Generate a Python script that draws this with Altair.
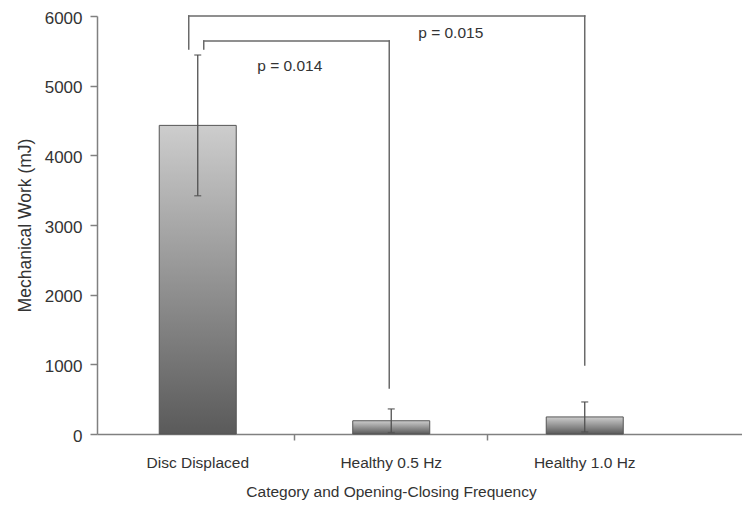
import altair as alt
import pandas as pd

# ---- data ----
categories = ["Disc Displaced", "Healthy 0.5 Hz", "Healthy 1.0 Hz"]
means = [4430, 190, 245]
errors = [1010, 170, 215]

bracket_from = ["Disc Displaced", "Disc Displaced"]
bracket_to = ["Healthy 0.5 Hz", "Healthy 1.0 Hz"]
bracket_top = [5640, 6000]
bracket_left_bottom = [5526, 5526]
bracket_right_bottom = [660, 990]
p_labels = ["p = 0.014", "p = 0.015"]
p_label_y = [5282, 5756]

y_ticks = [0, 1000, 2000, 3000, 4000, 5000, 6000]

# ---- tables ----
df = pd.DataFrame({"cat": categories, "mean": means, "err": errors})
df["lo"] = df["mean"] - df["err"]
df["hi"] = df["mean"] + df["err"]

br = pd.DataFrame({
    "from": bracket_from, "to": bracket_to, "top": bracket_top,
    "lb": bracket_left_bottom, "rb": bracket_right_bottom,
    "label": p_labels, "ly": p_label_y,
})

FONT = "Liberation Sans"
TXT = "#333333"
AX = "#808080"
LINE = "#6a6a6a"

xscale = alt.Scale(domain=categories, paddingInner=0, paddingOuter=0.1667, align=0.062)
yscale = alt.Scale(domain=[0, 6000], nice=False)

grad = alt.Gradient(
    gradient="linear",
    stops=[alt.GradientStop(color="#cdcdcd", offset=0),
           alt.GradientStop(color="#5a5a5a", offset=1)],
    x1=0, x2=0, y1=0, y2=1,
)

bars = alt.Chart(df).mark_bar(size=77, color=grad, stroke="#555555", strokeWidth=1).encode(
    x=alt.X("cat:N", scale=xscale, sort=categories,
            axis=alt.Axis(ticks=False, labelAngle=0, labelPadding=21, labelFont=FONT,
                          labelFontSize=15.5, labelColor=TXT, domainColor=AX, domainWidth=1.5,
                          title="Category and Opening-Closing Frequency", titleX=294,
                          titlePadding=14, titleFont=FONT, titleFontSize=15.5,
                          titleFontWeight="normal", titleColor=TXT, grid=False)),
    y=alt.Y("mean:Q", scale=yscale,
            axis=alt.Axis(values=y_ticks, format="d", grid=False, domainColor=AX, domainWidth=1.5,
                          tickColor=AX, tickSize=7, tickWidth=1.5, labelFont=FONT,
                          labelFontSize=17, labelColor=TXT, labelPadding=8, labelOffset=2,
                          title="Mechanical Work (mJ)", titleFont=FONT, titleFontSize=17.5,
                          titleFontWeight="normal", titleColor=TXT, titlePadding=10)),
)

tick_axis = alt.Axis(values=categories[1:], bandPosition=0, labels=False, domain=False,
                     title="", ticks=True, tickSize=6, tickColor=AX, tickWidth=1.5,
                     orient="bottom", grid=False)

err_rule = alt.Chart(df).mark_rule(color="#505050", strokeWidth=1.3).encode(
    x=alt.X("cat:N", scale=xscale, sort=categories, axis=tick_axis),
    y=alt.Y("lo:Q", scale=yscale),
    y2="hi:Q",
)

caps = alt.Chart(df).transform_fold(["lo", "hi"], as_=["k", "v"]).mark_tick(
    color="#505050", size=7, thickness=1.5
).encode(
    x=alt.X("cat:N", scale=xscale, sort=categories, axis=None),
    y=alt.Y("v:Q", scale=yscale),
)

left_off = [6, -9]
right_off = [-2, 0]
label_dx = [92, 253]

layers = [bars, err_rule, caps]
for i in range(len(br)):
    row = br.iloc[[i]]
    horiz = alt.Chart(row).mark_rule(color=LINE, strokeWidth=1.5, strokeCap="square",
                                     xOffset=left_off[i], x2Offset=right_off[i]).encode(
        x=alt.X("from:N", scale=xscale, sort=categories, axis=None),
        x2="to:N",
        y=alt.Y("top:Q", scale=yscale),
    )
    lleg = alt.Chart(row).mark_rule(color=LINE, strokeWidth=1.5, strokeCap="square",
                                    xOffset=left_off[i]).encode(
        x=alt.X("from:N", scale=xscale, sort=categories, axis=None),
        y=alt.Y("top:Q", scale=yscale),
        y2="lb:Q",
    )
    rleg = alt.Chart(row).mark_rule(color=LINE, strokeWidth=1.5, strokeCap="square",
                                    xOffset=right_off[i]).encode(
        x=alt.X("to:N", scale=xscale, sort=categories, axis=None),
        y=alt.Y("top:Q", scale=yscale),
        y2="rb:Q",
    )
    txt = alt.Chart(row).mark_text(font=FONT, fontSize=15.5, color="#333333",
                                   dx=label_dx[i], align="center", baseline="middle").encode(
        x=alt.X("from:N", scale=xscale, sort=categories, axis=None),
        y=alt.Y("ly:Q", scale=yscale),
        text="label:N",
    )
    layers += [horiz, lleg, rleg, txt]

chart = alt.layer(*layers).resolve_axis(x="independent").properties(
    width=645, height=418,
    autosize=alt.AutoSizeParams(type="none"),
    padding={"left": 89, "top": 8, "right": 0, "bottom": 66},
).configure_view(stroke=None)

chart.save("out.html", embed_options={"renderer": "svg", "actions": False})
